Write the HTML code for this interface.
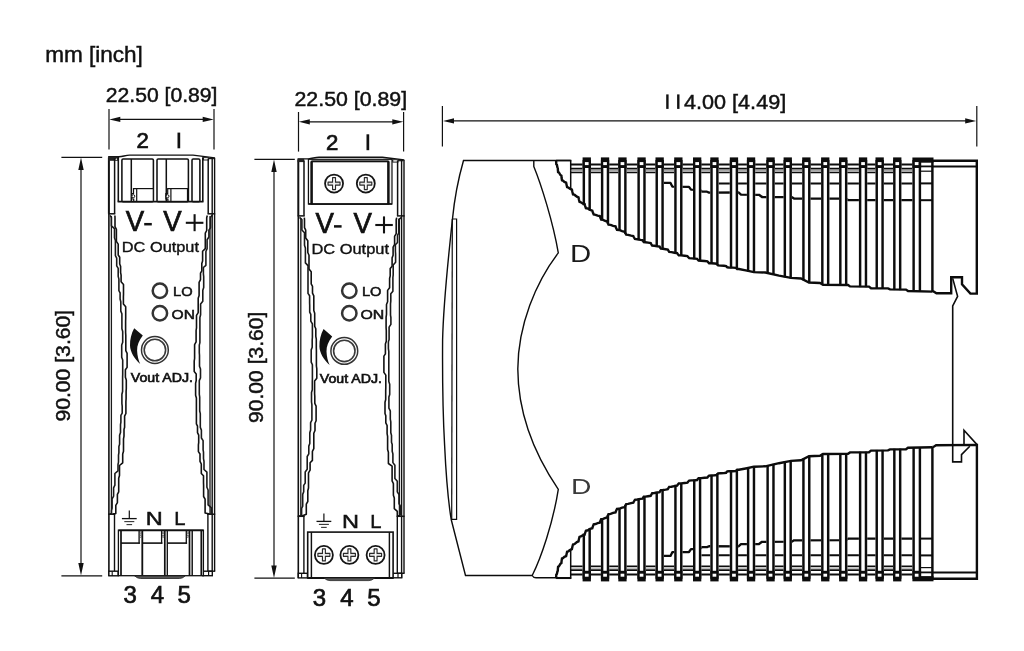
<!DOCTYPE html>
<html><head><meta charset="utf-8"><title>Dimensions</title>
<style>html,body{margin:0;padding:0;background:#fff;}svg{display:block;will-change:transform;}text{font-family:"Liberation Sans",sans-serif;}</style>
</head><body>
<svg width="1024" height="651" viewBox="0 0 1024 651">
<text x="45.2" y="61.8" font-size="21.5" textLength="97.7" lengthAdjust="spacingAndGlyphs" fill="#111" stroke="#111" stroke-width="0.45">mm [inch]</text>
<g transform="translate(0,0)">
<path d="M108.2,156.8 L119,156.8 C123,156.6 125.5,155.1 129.6,155.1 L193,155.1 L214.9,157.9" fill="none" stroke="#111" stroke-width="1.4"/>
<line x1="202.5" y1="158.6" x2="213.9" y2="158.6" stroke="#111" stroke-width="1.22" />
<line x1="108.9" y1="157.4" x2="108.9" y2="213.8" stroke="#111" stroke-width="2.00" />
<line x1="108.9" y1="213.8" x2="108.9" y2="575.9" stroke="#111" stroke-width="1.60" />
<line x1="111.4" y1="216" x2="111.4" y2="514" stroke="#1a1a1a" stroke-width="1.30" />
<line x1="214.6" y1="157.8" x2="214.6" y2="571.2" stroke="#111" stroke-width="1.40" />
<line x1="212.2" y1="157.8" x2="212.2" y2="575.9" stroke="#111" stroke-width="1.40" />
<line x1="210.0" y1="216" x2="210.0" y2="514" stroke="#1a1a1a" stroke-width="1.30" />
<rect x="108.2" y="156.6" width="10.4" height="4.2" fill="#222"/>
<path d="M115.2,160 L117.4,160 L116.3,158 Z" fill="#ddd"/>
<rect x="203.4" y="157.6" width="5.2" height="2.4" fill="#fff" stroke="#222" stroke-width="1"/>
<line x1="114.6" y1="158.4" x2="114.6" y2="213.6" stroke="#111" stroke-width="1.50" />
<line x1="208.2" y1="158.4" x2="208.2" y2="213.6" stroke="#111" stroke-width="1.50" />
<line x1="108.2" y1="213.8" x2="115.3" y2="213.8" stroke="#111" stroke-width="1.50" />
<line x1="207.5" y1="213.8" x2="215.2" y2="213.8" stroke="#111" stroke-width="1.50" />
<line x1="114.5" y1="514" x2="114.5" y2="575.9" stroke="#111" stroke-width="1.40" />
<line x1="207.9" y1="514" x2="207.9" y2="571.2" stroke="#111" stroke-width="1.40" />
<line x1="108.2" y1="514.2" x2="115.2" y2="514.2" stroke="#111" stroke-width="1.50" />
<line x1="207.2" y1="514.2" x2="215.2" y2="514.2" stroke="#111" stroke-width="1.50" />
<rect x="108.9" y="571.2" width="9.2" height="4.6" fill="#fff" stroke="#111" stroke-width="1.4"/>
<line x1="112.2" y1="571.2" x2="112.2" y2="575.9" stroke="#111" stroke-width="1.10" />
<rect x="202.8" y="571.2" width="9.5" height="4.5" fill="#fff" stroke="#111" stroke-width="1.4"/>
<line x1="208.6" y1="571.2" x2="208.6" y2="575.9" stroke="#111" stroke-width="1.20" />
<line x1="207.9" y1="571.2" x2="215.2" y2="571.2" stroke="#111" stroke-width="1.40" />
<path d="M114.9,215.5 L115.0,217.7 L115.0,226.6 L116.4,229.3 L116.4,241.4 L118.2,244.1 L118.2,255.0 L119.7,257.3 L119.7,264.0 L120.6,266.2 L120.6,272.7 L121.1,275.1 L121.1,281.8 L123.5,284.5 L123.5,294.4 L123.4,296.8 L123.4,304.0 L125.7,306.7 L125.7,318.5 L125.6,321.2 L125.6,332.6 L125.8,335.3 L125.8,350.6 L127.1,353.3 L127.1,367.4 L125.4,369.8 L125.4,377.2 L126.3,379.9 L126.3,388.6 L126.1,391.2 L126.1,398.8 L125.9,401.5 L125.9,413.5 L124.6,416.2 L124.6,427.2 L124.0,429.5 L124.0,436.2 L123.5,438.9 L123.5,451.3 L122.7,454.0 L122.7,462.8 L119.5,465.5 L119.5,475.6 L118.7,478.3 L118.7,491.8 L117.4,494.4 L117.4,502.6 L115.8,505.3 L115.8,513.5 L112.6,514.0" fill="none" stroke="#111" stroke-width="1.59" stroke-linejoin="round"/>
<path d="M207.3,215.5 L206.7,217.7 L206.7,230.5 L205.3,233.2 L205.3,248.6 L202.6,251.3 L202.6,261.1 L201.8,263.5 L201.8,270.9 L200.5,273.2 L200.5,279.7 L199.1,282.4 L199.1,295.6 L198.2,298.3 L198.2,312.6 L196.5,315.3 L196.5,327.8 L196.1,330.5 L196.1,341.9 L194.6,344.6 L194.6,358.5 L194.2,361.2 L194.2,371.6 L196.2,373.9 L196.2,380.6 L195.6,383.3 L195.6,395.3 L196.4,398.0 L196.4,411.8 L196.4,414.5 L196.4,423.9 L197.5,426.2 L197.5,432.6 L198.7,435.1 L198.7,442.6 L198.4,444.9 L198.4,451.6 L200.0,454.0 L200.0,461.3 L201.3,464.0 L201.3,473.5 L203.5,475.8 L203.5,482.7 L203.6,485.4 L203.6,496.5 L205.1,499.2 L205.1,512.9 L209.6,514.0" fill="none" stroke="#111" stroke-width="1.59" stroke-linejoin="round"/>
<path d="M110.1,215.3 L111.4,217.5 L111.4,225.9 L114.5,228.6 L114.5,237.8 L115.4,240.5 L115.4,255.6 L116.7,258.2 L116.7,265.8 L118.2,268.4 L118.2,276.4 L118.9,279.1 L118.9,290.6 L120.1,292.8 L120.1,299.1 L120.8,301.8 L120.8,311.1 L121.9,313.8 L121.9,328.8 L122.7,331.5 L122.7,342.3 L121.7,345.0 L121.7,357.3 L122.7,360.0 L122.7,374.5 L122.6,377.2 L122.6,391.5 L121.9,394.2 L121.9,403.7 L122.2,406.1 L122.2,413.1 L120.9,415.4 L120.9,422.2 L120.5,424.7 L120.5,432.6 L119.6,435.3 L119.6,444.3 L118.9,446.5 L118.9,452.7 L118.5,455.1 L118.5,462.1 L118.0,464.4 L118.0,470.8 L114.9,473.5 L114.9,485.2 L113.6,487.9 L113.6,496.1 L112.1,498.8 L112.1,508.0 L111.5,510.7 L111.5,513.5 L109.8,514.0" fill="none" stroke="#1a1a1a" stroke-width="1.59" stroke-linejoin="round"/>
<path d="M212.1,215.3 L210.5,217.5 L210.5,227.8 L208.9,230.1 L208.9,237.0 L207.1,239.7 L207.1,248.8 L205.9,251.5 L205.9,265.3 L203.4,267.5 L203.4,273.9 L203.7,276.6 L203.7,287.5 L202.8,290.2 L202.8,301.2 L200.6,303.9 L200.6,314.8 L199.9,317.5 L199.9,331.7 L199.9,334.3 L199.9,342.6 L199.3,345.1 L199.3,352.6 L199.5,355.3 L199.5,366.3 L200.5,369.0 L200.5,377.9 L199.3,380.6 L199.3,394.3 L199.7,397.0 L199.7,411.0 L200.3,413.7 L200.3,427.4 L201.4,430.1 L201.4,438.0 L203.1,440.7 L203.1,449.9 L203.5,452.2 L203.5,458.6 L204.0,461.3 L204.0,469.5 L206.9,472.2 L206.9,487.3 L208.1,490.0 L208.1,504.9 L211.2,507.6 L211.2,513.5 L212.4,514.0" fill="none" stroke="#1a1a1a" stroke-width="1.59" stroke-linejoin="round"/>
<line x1="118.3" y1="156.6" x2="118.3" y2="201.6" stroke="#111" stroke-width="1.59" />
<line x1="202.8" y1="157.2" x2="202.8" y2="201.6" stroke="#111" stroke-width="1.59" />
<line x1="117.6" y1="201.6" x2="203.5" y2="201.6" stroke="#111" stroke-width="1.59" />
<rect x="121.9" y="159.0" width="31.5" height="42.6" rx="1.2" fill="#fff" stroke="#111" stroke-width="1.55"/>
<rect x="157.0" y="159.0" width="31.4" height="42.6" rx="1.2" fill="#fff" stroke="#111" stroke-width="1.55"/>
<rect x="192.0" y="159.0" width="7.9" height="42.6" rx="1.2" fill="#fff" stroke="#111" stroke-width="1.55"/>
<line x1="131.3" y1="159.0" x2="131.3" y2="201.6" stroke="#111" stroke-width="1.52" />
<line x1="166.3" y1="159.0" x2="166.3" y2="201.6" stroke="#111" stroke-width="1.52" />
<rect x="136.7" y="188.6" width="16.600000000000023" height="12.8" fill="#fff" stroke="#111" stroke-width="1.2"/>
<path d="M136.7,188.6 L133.5,188.6 L133.5,193.5 L131.7,193.5 L131.7,199.0 L133.7,199.0 L133.7,201.0" fill="none" stroke="#111" stroke-width="1.22" />
<circle cx="133.29999999999998" cy="196.2" r="1.5" fill="#fff" stroke="#111" stroke-width="1.0"/>
<rect x="170.9" y="188.6" width="16.600000000000023" height="12.8" fill="#fff" stroke="#111" stroke-width="1.2"/>
<path d="M170.9,188.6 L167.7,188.6 L167.7,193.5 L165.9,193.5 L165.9,199.0 L167.9,199.0 L167.9,201.0" fill="none" stroke="#111" stroke-width="1.22" />
<circle cx="167.5" cy="196.2" r="1.5" fill="#fff" stroke="#111" stroke-width="1.0"/>
<rect x="118.4" y="530.2" width="85.0" height="45.499999999999886" fill="#fff" stroke="#111" stroke-width="1.3"/>
<line x1="118.4" y1="530.4000000000001" x2="203.4" y2="530.4000000000001" stroke="#111" stroke-width="1.59" />
<line x1="121.0" y1="530.2" x2="121.0" y2="575.6999999999999" stroke="#111" stroke-width="1.71" />
<line x1="142.3" y1="530.2" x2="142.3" y2="575.6999999999999" stroke="#111" stroke-width="1.83" />
<line x1="164.8" y1="530.2" x2="164.8" y2="575.6999999999999" stroke="#111" stroke-width="1.71" />
<line x1="167.3" y1="530.2" x2="167.3" y2="575.6999999999999" stroke="#111" stroke-width="1.34" />
<line x1="189.5" y1="530.2" x2="189.5" y2="575.6999999999999" stroke="#111" stroke-width="1.71" />
<line x1="192.2" y1="530.2" x2="192.2" y2="575.6999999999999" stroke="#111" stroke-width="1.46" />
<line x1="201.3" y1="530.2" x2="201.3" y2="575.6999999999999" stroke="#111" stroke-width="1.71" />
<line x1="121.0" y1="543.1" x2="139.9" y2="543.1" stroke="#111" stroke-width="1.59" />
<line x1="139.10000000000002" y1="530.2" x2="139.10000000000002" y2="543.6" stroke="#111" stroke-width="1.34" />
<circle cx="140.60000000000002" cy="532.9" r="1.0" fill="#fff" stroke="#222" stroke-width="0.7"/>
<circle cx="140.60000000000002" cy="536.3" r="1.0" fill="#fff" stroke="#222" stroke-width="0.7"/>
<line x1="142.3" y1="543.1" x2="162.4" y2="543.1" stroke="#111" stroke-width="1.59" />
<line x1="161.60000000000002" y1="530.2" x2="161.60000000000002" y2="543.6" stroke="#111" stroke-width="1.34" />
<circle cx="163.10000000000002" cy="532.9" r="1.0" fill="#fff" stroke="#222" stroke-width="0.7"/>
<circle cx="163.10000000000002" cy="536.3" r="1.0" fill="#fff" stroke="#222" stroke-width="0.7"/>
<line x1="167.3" y1="543.1" x2="187.1" y2="543.1" stroke="#111" stroke-width="1.59" />
<line x1="186.3" y1="530.2" x2="186.3" y2="543.6" stroke="#111" stroke-width="1.34" />
<circle cx="187.8" cy="532.9" r="1.0" fill="#fff" stroke="#222" stroke-width="0.7"/>
<circle cx="187.8" cy="536.3" r="1.0" fill="#fff" stroke="#222" stroke-width="0.7"/>
<path d="M134.6,575.9 Q137.5,578.5 140.5,578.5 L179.5,578.5 Q182.5,578.5 185.2,575.9 Z" fill="#555" stroke="#222" stroke-width="0.8"/>
<circle cx="159.9" cy="290.7" r="7.2" fill="#fff" stroke="#333" stroke-width="2.5"/>
<circle cx="159.9" cy="313.3" r="7.2" fill="#fff" stroke="#333" stroke-width="2.5"/>
<g transform="translate(0,0)">
<circle cx="154.9" cy="350" r="13.4" fill="#fff" stroke="#333" stroke-width="1.5"/>
<circle cx="154.9" cy="350" r="10.7" fill="#fff" stroke="#3a3a3a" stroke-width="1.6"/>
<path d="M134.2,328.2 L142.8,335.6 C139,340.5 136.9,346 137.1,350.5 C137.3,355.5 138.4,360 140.2,364 C134.3,358.5 130.2,352 130.0,345.5 C129.9,339.5 131.3,333.5 134.2,328.2 Z" fill="#111"/>
</g>
</g>
<text x="105.8" y="102.3" font-size="19.6" textLength="111.7" lengthAdjust="spacingAndGlyphs" fill="#111" stroke="#111" stroke-width="0.45">22.50 [0.89]</text>
<line x1="109" y1="109" x2="109" y2="149.4" stroke="#111" stroke-width="1.20" />
<line x1="214" y1="109" x2="214" y2="149.4" stroke="#111" stroke-width="1.20" />
<line x1="115.3" y1="119.4" x2="207.7" y2="119.4" stroke="#111" stroke-width="1.20" />
<path d="M109.3,119.4 L120.3,116.80000000000001 L120.3,122.0 Z M213.7,119.4 L202.7,116.80000000000001 L202.7,122.0 Z" fill="#111"/>
<line x1="61.4" y1="157.3" x2="102.2" y2="157.3" stroke="#111" stroke-width="1.20" />
<line x1="61.4" y1="575.9" x2="102.2" y2="575.9" stroke="#111" stroke-width="1.20" />
<line x1="81.0" y1="163.6" x2="81.0" y2="569.6" stroke="#111" stroke-width="1.20" />
<path d="M81.0,157.6 L78.3,170.1 L83.7,170.1 Z M81.0,575.6 L78.3,563.1 L83.7,563.1 Z" fill="#111"/>
<text transform="translate(70,421.6) rotate(-90)" stroke="#111" stroke-width="0.45" font-size="19.6" textLength="111.8" lengthAdjust="spacingAndGlyphs" fill="#111">90.00 [3.60]</text>
<text x="136.4" y="148.3" font-size="22.2" fill="#111" stroke="#111" stroke-width="0.7">2</text>
<rect x="177.5" y="132.6" width="2.7" height="15.7" fill="#111"/>
<text x="125.7" y="231.2" font-size="29.4" textLength="18.4" lengthAdjust="spacingAndGlyphs" fill="#111" stroke="#111" stroke-width="0.7">V</text>
<line x1="144.2" y1="224.2" x2="151.8" y2="224.2" stroke="#111" stroke-width="2.50" />
<text x="163.3" y="231.2" font-size="29.4" textLength="18.4" lengthAdjust="spacingAndGlyphs" fill="#111" stroke="#111" stroke-width="0.7">V</text>
<line x1="185.8" y1="222.8" x2="203.4" y2="222.8" stroke="#111" stroke-width="2.10" />
<line x1="194.6" y1="214.2" x2="194.6" y2="231.2" stroke="#111" stroke-width="2.10" />
<text x="121.8" y="251.5" font-size="14" textLength="77.2" lengthAdjust="spacingAndGlyphs" fill="#111" stroke="#111" stroke-width="0.35">DC Output</text>
<text x="173.0" y="296.4" font-size="12.6" textLength="19.6" lengthAdjust="spacingAndGlyphs" fill="#111" stroke="#111" stroke-width="0.5">LO</text>
<text x="171.6" y="319.3" font-size="12.6" textLength="23.4" lengthAdjust="spacingAndGlyphs" fill="#111" stroke="#111" stroke-width="0.5">ON</text>
<text x="130.8" y="381.8" font-size="13" textLength="62.2" lengthAdjust="spacingAndGlyphs" fill="#111" stroke="#111" stroke-width="0.65">Vout ADJ.</text>
<line x1="129.3" y1="510.6" x2="129.3" y2="518.6" stroke="#111" stroke-width="1.20" />
<line x1="121.9" y1="518.6" x2="136.70000000000002" y2="518.6" stroke="#111" stroke-width="1.30" />
<line x1="124.30000000000001" y1="521.6" x2="134.3" y2="521.6" stroke="#333" stroke-width="1.10" />
<line x1="126.50000000000001" y1="524.6" x2="132.10000000000002" y2="524.6" stroke="#333" stroke-width="1.10" />
<text x="145.8" y="525" font-size="19" textLength="17.0" lengthAdjust="spacingAndGlyphs" fill="#111" stroke="#111" stroke-width="0.5">N</text>
<text x="174.2" y="525" font-size="19" textLength="11.2" lengthAdjust="spacingAndGlyphs" fill="#111" stroke="#111" stroke-width="0.5">L</text>
<text x="123.6" y="602.9" font-size="24" fill="#111" stroke="#111" stroke-width="0.7">3</text>
<text x="150.8" y="602.9" font-size="24" fill="#111" stroke="#111" stroke-width="0.7">4</text>
<text x="177.4" y="602.9" font-size="24" fill="#111" stroke="#111" stroke-width="0.7">5</text>
<g transform="translate(189.4,2.1)">
<path d="M108.2,156.8 L119,156.8 C123,156.6 125.5,155.1 129.6,155.1 L193,155.1 L214.9,157.9" fill="none" stroke="#111" stroke-width="1.4"/>
<line x1="202.5" y1="158.6" x2="213.9" y2="158.6" stroke="#111" stroke-width="1.22" />
<line x1="108.9" y1="157.4" x2="108.9" y2="213.8" stroke="#111" stroke-width="2.00" />
<line x1="108.9" y1="213.8" x2="108.9" y2="575.9" stroke="#111" stroke-width="1.60" />
<line x1="111.4" y1="216" x2="111.4" y2="514" stroke="#1a1a1a" stroke-width="1.30" />
<line x1="214.6" y1="157.8" x2="214.6" y2="571.2" stroke="#111" stroke-width="1.40" />
<line x1="212.2" y1="157.8" x2="212.2" y2="575.9" stroke="#111" stroke-width="1.40" />
<line x1="210.0" y1="216" x2="210.0" y2="514" stroke="#1a1a1a" stroke-width="1.30" />
<rect x="108.2" y="156.6" width="6.6" height="3.4" fill="#222"/>
<rect x="203.4" y="157.6" width="5.2" height="2.4" fill="#fff" stroke="#222" stroke-width="1"/>
<line x1="114.6" y1="158.4" x2="114.6" y2="213.6" stroke="#111" stroke-width="1.50" />
<line x1="208.2" y1="158.4" x2="208.2" y2="213.6" stroke="#111" stroke-width="1.50" />
<line x1="108.2" y1="213.8" x2="115.3" y2="213.8" stroke="#111" stroke-width="1.50" />
<line x1="207.5" y1="213.8" x2="215.2" y2="213.8" stroke="#111" stroke-width="1.50" />
<line x1="114.5" y1="514" x2="114.5" y2="575.9" stroke="#111" stroke-width="1.40" />
<line x1="207.9" y1="514" x2="207.9" y2="571.2" stroke="#111" stroke-width="1.40" />
<line x1="108.2" y1="514.2" x2="115.2" y2="514.2" stroke="#111" stroke-width="1.50" />
<line x1="207.2" y1="514.2" x2="215.2" y2="514.2" stroke="#111" stroke-width="1.50" />
<rect x="108.9" y="571.2" width="9.2" height="4.6" fill="#fff" stroke="#111" stroke-width="1.4"/>
<line x1="112.2" y1="571.2" x2="112.2" y2="575.9" stroke="#111" stroke-width="1.10" />
<rect x="202.8" y="571.2" width="9.5" height="4.5" fill="#fff" stroke="#111" stroke-width="1.4"/>
<line x1="208.6" y1="571.2" x2="208.6" y2="575.9" stroke="#111" stroke-width="1.20" />
<line x1="207.9" y1="571.2" x2="215.2" y2="571.2" stroke="#111" stroke-width="1.40" />
<path d="M114.9,215.5 L115.1,217.6 L115.1,225.6 L116.3,228.1 L116.3,235.9 L118.4,238.6 L118.4,250.4 L119.6,253.1 L119.6,267.0 L121.8,269.7 L121.8,281.8 L123.1,284.2 L123.1,291.1 L124.4,293.8 L124.4,308.4 L125.3,311.1 L125.3,324.1 L126.4,326.7 L126.4,334.3 L126.9,337.0 L126.9,345.9 L127.0,348.6 L127.0,363.9 L127.4,366.6 L127.4,376.2 L125.2,378.9 L125.2,391.7 L125.4,394.1 L125.4,401.3 L126.7,404.0 L126.7,418.6 L125.6,421.1 L125.6,428.4 L124.4,431.1 L124.4,446.5 L123.0,449.2 L123.0,458.3 L120.7,460.7 L120.7,468.0 L119.1,470.7 L119.1,485.9 L118.4,488.6 L118.4,499.4 L116.9,502.1 L116.9,512.1 L112.6,514.0" fill="none" stroke="#111" stroke-width="1.59" stroke-linejoin="round"/>
<path d="M207.3,215.5 L206.8,217.7 L206.8,231.5 L205.2,234.2 L205.2,242.4 L203.7,245.0 L203.7,253.1 L202.7,255.8 L202.7,264.1 L200.8,266.5 L200.8,273.7 L200.2,276.4 L200.2,285.6 L198.2,288.3 L198.2,299.7 L197.1,302.4 L197.1,312.3 L196.7,315.0 L196.7,325.6 L196.9,328.3 L196.9,339.1 L196.0,341.8 L196.0,351.8 L194.5,354.0 L194.5,360.3 L194.5,362.8 L194.5,370.3 L196.4,373.0 L196.4,385.8 L196.3,388.5 L196.3,397.4 L195.6,400.1 L195.6,411.3 L196.4,413.7 L196.4,420.7 L197.7,423.4 L197.7,431.6 L198.2,434.3 L198.2,447.5 L199.0,450.2 L199.0,461.4 L202.7,464.1 L202.7,478.8 L204.0,481.5 L204.0,493.2 L204.9,495.9 L204.9,506.6 L207.9,509.3 L207.9,513.5 L209.6,514.0" fill="none" stroke="#111" stroke-width="1.59" stroke-linejoin="round"/>
<path d="M110.1,215.3 L112.5,217.5 L112.5,227.9 L115.1,230.6 L115.1,243.1 L116.0,245.8 L116.0,260.8 L118.6,263.5 L118.6,274.7 L118.6,277.4 L118.6,291.3 L120.2,293.7 L120.2,300.9 L120.3,303.2 L120.3,310.0 L121.4,312.3 L121.4,319.1 L123.0,321.8 L123.0,335.2 L122.8,337.7 L122.8,345.1 L121.8,347.8 L121.8,360.0 L123.0,362.7 L123.0,377.0 L122.9,379.6 L122.9,387.6 L122.1,390.3 L122.1,399.9 L122.5,402.6 L122.5,418.0 L121.2,420.5 L121.2,428.0 L120.4,430.7 L120.4,441.4 L119.4,444.0 L119.4,451.7 L117.8,454.4 L117.8,467.2 L115.8,469.9 L115.8,481.0 L114.3,483.3 L114.3,489.6 L113.3,492.3 L113.3,504.1 L112.2,506.4 L112.2,513.2 L109.8,514.0" fill="none" stroke="#1a1a1a" stroke-width="1.59" stroke-linejoin="round"/>
<path d="M212.1,215.3 L209.3,217.5 L209.3,230.9 L208.1,233.3 L208.1,240.4 L206.0,242.6 L206.0,249.1 L206.2,251.8 L206.2,260.2 L203.8,262.9 L203.8,272.7 L203.5,275.4 L203.5,289.2 L201.4,291.6 L201.4,299.0 L201.1,301.7 L201.1,313.0 L201.5,315.4 L201.5,322.3 L199.7,325.0 L199.7,337.4 L199.0,339.8 L199.0,346.5 L199.4,349.2 L199.4,361.2 L199.4,363.5 L199.4,370.4 L199.4,372.7 L199.4,379.4 L200.3,382.1 L200.3,392.3 L199.5,395.0 L199.5,406.1 L200.9,408.8 L200.9,417.1 L201.4,419.8 L201.4,430.7 L202.1,433.1 L202.1,440.2 L202.8,442.4 L202.8,449.1 L203.5,451.8 L203.5,460.5 L205.5,463.2 L205.5,476.4 L207.9,479.1 L207.9,489.7 L209.6,492.4 L209.6,501.5 L211.0,504.1 L211.0,512.3 L212.4,514.0" fill="none" stroke="#1a1a1a" stroke-width="1.59" stroke-linejoin="round"/>
<rect x="119.0" y="157.2" width="83.6" height="44.70000000000002" fill="#eee" stroke="#111" stroke-width="1.2"/>
<rect x="122.2" y="159.3" width="76.8" height="42.599999999999994" fill="#fff" stroke="#111" stroke-width="1.3"/>
<line x1="122.2" y1="159.3" x2="122.2" y2="201.9" stroke="#111" stroke-width="2.44" />
<line x1="199.0" y1="159.3" x2="199.0" y2="201.9" stroke="#111" stroke-width="2.44" />
<line x1="122.2" y1="159.3" x2="199.0" y2="159.3" stroke="#111" stroke-width="1.71" />
<line x1="119.0" y1="201.9" x2="202.6" y2="201.9" stroke="#111" stroke-width="1.59" />
<circle cx="144.65" cy="181.5" r="9.0" fill="#fff" stroke="#151515" stroke-width="1.8"/>
<path d="M143.20000000000002,175.5 L146.1,175.5 L146.1,180.05 L150.65,180.05 L150.65,182.95 L146.1,182.95 L146.1,187.5 L143.20000000000002,187.5 L143.20000000000002,182.95 L138.65,182.95 L138.65,180.05 L143.20000000000002,180.05 Z" fill="#e4e4e4" stroke="#2a2a2a" stroke-width="1.15" stroke-linejoin="round"/>
<rect x="144.15" y="176.5" width="1.0" height="10.0" fill="#fff"/>
<circle cx="176.4" cy="181.5" r="9.0" fill="#fff" stroke="#151515" stroke-width="1.8"/>
<path d="M174.95000000000002,175.5 L177.85,175.5 L177.85,180.05 L182.4,180.05 L182.4,182.95 L177.85,182.95 L177.85,187.5 L174.95000000000002,187.5 L174.95000000000002,182.95 L170.4,182.95 L170.4,180.05 L174.95000000000002,180.05 Z" fill="#e4e4e4" stroke="#2a2a2a" stroke-width="1.15" stroke-linejoin="round"/>
<rect x="175.9" y="176.5" width="1.0" height="10.0" fill="#fff"/>
<rect x="118.3" y="530.0" width="85.39999999999999" height="45.89999999999998" fill="#fff" stroke="#111" stroke-width="1.6"/>
<line x1="122" y1="530.0" x2="122" y2="575.9" stroke="#111" stroke-width="1.46" />
<line x1="200" y1="530.0" x2="200" y2="575.9" stroke="#111" stroke-width="1.46" />
<line x1="118.3" y1="575.9" x2="203.7" y2="575.9" stroke="#111" stroke-width="2.20" />
<circle cx="134.5" cy="552.8" r="9.0" fill="#fff" stroke="#151515" stroke-width="1.8"/>
<path d="M133.05,546.8 L135.95,546.8 L135.95,551.3499999999999 L140.5,551.3499999999999 L140.5,554.25 L135.95,554.25 L135.95,558.8 L133.05,558.8 L133.05,554.25 L128.5,554.25 L128.5,551.3499999999999 L133.05,551.3499999999999 Z" fill="#e4e4e4" stroke="#2a2a2a" stroke-width="1.15" stroke-linejoin="round"/>
<rect x="134.0" y="547.8" width="1.0" height="10.0" fill="#fff"/>
<circle cx="160.0" cy="552.8" r="9.0" fill="#fff" stroke="#151515" stroke-width="1.8"/>
<path d="M158.55,546.8 L161.45,546.8 L161.45,551.3499999999999 L166.0,551.3499999999999 L166.0,554.25 L161.45,554.25 L161.45,558.8 L158.55,558.8 L158.55,554.25 L154.0,554.25 L154.0,551.3499999999999 L158.55,551.3499999999999 Z" fill="#e4e4e4" stroke="#2a2a2a" stroke-width="1.15" stroke-linejoin="round"/>
<rect x="159.5" y="547.8" width="1.0" height="10.0" fill="#fff"/>
<circle cx="186.2" cy="552.8" r="9.0" fill="#fff" stroke="#151515" stroke-width="1.8"/>
<path d="M184.75,546.8 L187.64999999999998,546.8 L187.64999999999998,551.3499999999999 L192.2,551.3499999999999 L192.2,554.25 L187.64999999999998,554.25 L187.64999999999998,558.8 L184.75,558.8 L184.75,554.25 L180.2,554.25 L180.2,551.3499999999999 L184.75,551.3499999999999 Z" fill="#e4e4e4" stroke="#2a2a2a" stroke-width="1.15" stroke-linejoin="round"/>
<rect x="185.7" y="547.8" width="1.0" height="10.0" fill="#fff"/>
<path d="M134.6,575.9 Q137.5,578.5 140.5,578.5 L179.5,578.5 Q182.5,578.5 185.2,575.9 Z" fill="#555" stroke="#222" stroke-width="0.8"/>
<circle cx="159.9" cy="288.59999999999997" r="7.2" fill="#fff" stroke="#333" stroke-width="2.5"/>
<circle cx="159.9" cy="311.2" r="7.2" fill="#fff" stroke="#333" stroke-width="2.5"/>
<g transform="translate(0,-1.2)">
<circle cx="154.9" cy="350" r="13.4" fill="#fff" stroke="#333" stroke-width="1.5"/>
<circle cx="154.9" cy="350" r="10.7" fill="#fff" stroke="#3a3a3a" stroke-width="1.6"/>
<path d="M134.2,328.2 L142.8,335.6 C139,340.5 136.9,346 137.1,350.5 C137.3,355.5 138.4,360 140.2,364 C134.3,358.5 130.2,352 130.0,345.5 C129.9,339.5 131.3,333.5 134.2,328.2 Z" fill="#111"/>
</g>
</g>
<text x="294.5" y="106.0" font-size="19.6" textLength="112.6" lengthAdjust="spacingAndGlyphs" fill="#111" stroke="#111" stroke-width="0.45">22.50 [0.89]</text>
<line x1="298.5" y1="112" x2="298.5" y2="151.6" stroke="#111" stroke-width="1.20" />
<line x1="403.6" y1="112" x2="403.6" y2="151.6" stroke="#111" stroke-width="1.20" />
<line x1="304.8" y1="121.8" x2="397.3" y2="121.8" stroke="#111" stroke-width="1.20" />
<path d="M298.8,121.8 L309.8,119.2 L309.8,124.39999999999999 Z M403.3,121.8 L392.3,119.2 L392.3,124.39999999999999 Z" fill="#111"/>
<line x1="254.4" y1="159.3" x2="294.8" y2="159.3" stroke="#111" stroke-width="1.20" />
<line x1="254.4" y1="578.2" x2="294.8" y2="578.2" stroke="#111" stroke-width="1.20" />
<line x1="274.0" y1="165.6" x2="274.0" y2="571.9" stroke="#111" stroke-width="1.20" />
<path d="M274.0,159.6 L271.3,172.1 L276.7,172.1 Z M274.0,577.9 L271.3,565.4 L276.7,565.4 Z" fill="#111"/>
<text transform="translate(263.2,422.9) rotate(-90)" stroke="#111" stroke-width="0.45" font-size="19.6" textLength="111.2" lengthAdjust="spacingAndGlyphs" fill="#111">90.00 [3.60]</text>
<text x="326.0" y="150.2" font-size="22.2" fill="#111" stroke="#111" stroke-width="0.7">2</text>
<rect x="366.5" y="134.3" width="2.7" height="15.9" fill="#111"/>
<text x="315.6" y="233.3" font-size="29.4" textLength="18.4" lengthAdjust="spacingAndGlyphs" fill="#111" stroke="#111" stroke-width="0.7">V</text>
<line x1="334.0" y1="226.4" x2="341.6" y2="226.4" stroke="#111" stroke-width="2.50" />
<text x="353.5" y="233.3" font-size="29.4" textLength="18.4" lengthAdjust="spacingAndGlyphs" fill="#111" stroke="#111" stroke-width="0.7">V</text>
<line x1="375.3" y1="225.0" x2="392.8" y2="225.0" stroke="#111" stroke-width="2.10" />
<line x1="384.0" y1="216.4" x2="384.0" y2="233.4" stroke="#111" stroke-width="2.10" />
<text x="311.4" y="254.3" font-size="14" textLength="77.6" lengthAdjust="spacingAndGlyphs" fill="#111" stroke="#111" stroke-width="0.35">DC Output</text>
<text x="361.9" y="295.9" font-size="12.6" textLength="19.6" lengthAdjust="spacingAndGlyphs" fill="#111" stroke="#111" stroke-width="0.5">LO</text>
<text x="360.4" y="318.8" font-size="12.6" textLength="23.8" lengthAdjust="spacingAndGlyphs" fill="#111" stroke="#111" stroke-width="0.5">ON</text>
<text x="319.8" y="383.4" font-size="13" textLength="62.2" lengthAdjust="spacingAndGlyphs" fill="#111" stroke="#111" stroke-width="0.65">Vout ADJ.</text>
<line x1="323.9" y1="513.4" x2="323.9" y2="521.4" stroke="#111" stroke-width="1.20" />
<line x1="316.5" y1="521.4" x2="331.29999999999995" y2="521.4" stroke="#111" stroke-width="1.30" />
<line x1="318.9" y1="524.4" x2="328.9" y2="524.4" stroke="#333" stroke-width="1.10" />
<line x1="321.09999999999997" y1="527.4" x2="326.7" y2="527.4" stroke="#333" stroke-width="1.10" />
<text x="342.0" y="527.8" font-size="19" textLength="17.0" lengthAdjust="spacingAndGlyphs" fill="#111" stroke="#111" stroke-width="0.5">N</text>
<text x="370.3" y="527.8" font-size="19" textLength="11.2" lengthAdjust="spacingAndGlyphs" fill="#111" stroke="#111" stroke-width="0.5">L</text>
<text x="312.8" y="606.2" font-size="24" fill="#111" stroke="#111" stroke-width="0.7">3</text>
<text x="340.2" y="606.2" font-size="24" fill="#111" stroke="#111" stroke-width="0.7">4</text>
<text x="367.2" y="606.2" font-size="24" fill="#111" stroke="#111" stroke-width="0.7">5</text>
<g>
<line x1="570.70" y1="160.50" x2="570.70" y2="190.10" stroke="#0c0c0c" stroke-width="1.5" />
<line x1="556.10" y1="160.50" x2="571.40" y2="160.50" stroke="#0c0c0c" stroke-width="1.5" />
<line x1="570.70" y1="164.40" x2="932.40" y2="164.40" stroke="#0c0c0c" stroke-width="2.0" />
<line x1="570.70" y1="168.65" x2="932.40" y2="168.65" stroke="#0c0c0c" stroke-width="1.7" />
<line x1="570.70" y1="170.75" x2="932.40" y2="170.75" stroke="#6a6a6a" stroke-width="0.8" />
<line x1="570.70" y1="172.60" x2="932.40" y2="172.60" stroke="#0c0c0c" stroke-width="1.5" />
<line x1="718.50" y1="183.60" x2="932.40" y2="183.60" stroke="#0c0c0c" stroke-width="2.0" />
<path d="M663.8,182.9 L670.5,182.9 L672.3,186.6 L689.0,186.8 L691.0,189.7 L700.0,189.9 L702.0,191.6 L707.0,191.7 L709.0,192.6 L738.5,192.4 L741.0,194.6 L759.0,194.8 L762.0,197.0 L792.0,197.2 L794.0,198.5 L846.0,198.7 L848.5,200.2 L932.4,200.2" fill="none" stroke="#0c0c0c" stroke-width="2.3" stroke-linejoin="round"/>
<rect x="582.6" y="162" width="8.3" height="45.2" fill="#fff"/>
<line x1="583.83" y1="160.00" x2="583.83" y2="205.33" stroke="#0c0c0c" stroke-width="2.45" />
<line x1="589.67" y1="160.00" x2="589.67" y2="210.45" stroke="#0c0c0c" stroke-width="2.45" />
<rect x="582.6" y="157.4" width="8.3" height="10.6" fill="#0c0c0c"/>
<rect x="584.9" y="162.1" width="3.7" height="3.0" fill="#fff"/>
<rect x="600.9" y="162" width="8.3" height="58.9" fill="#fff"/>
<line x1="602.12" y1="160.00" x2="602.12" y2="219.56" stroke="#0c0c0c" stroke-width="2.45" />
<line x1="607.97" y1="160.00" x2="607.97" y2="223.46" stroke="#0c0c0c" stroke-width="2.45" />
<rect x="600.9" y="157.4" width="8.3" height="10.6" fill="#0c0c0c"/>
<rect x="603.2" y="162.1" width="3.7" height="3.0" fill="#fff"/>
<rect x="618.3" y="162" width="8.3" height="69.7" fill="#fff"/>
<line x1="619.52" y1="160.00" x2="619.52" y2="230.60" stroke="#0c0c0c" stroke-width="2.45" />
<line x1="625.37" y1="160.00" x2="625.37" y2="233.91" stroke="#0c0c0c" stroke-width="2.45" />
<rect x="618.3" y="157.4" width="8.3" height="10.6" fill="#0c0c0c"/>
<rect x="620.6" y="162.1" width="3.7" height="3.0" fill="#fff"/>
<rect x="637.4" y="162" width="8.3" height="78.6" fill="#fff"/>
<line x1="638.62" y1="160.00" x2="638.62" y2="240.12" stroke="#0c0c0c" stroke-width="2.45" />
<line x1="644.47" y1="160.00" x2="644.47" y2="242.21" stroke="#0c0c0c" stroke-width="2.45" />
<rect x="637.4" y="157.4" width="8.3" height="10.6" fill="#0c0c0c"/>
<rect x="639.7" y="162.1" width="3.7" height="3.0" fill="#fff"/>
<rect x="655.5" y="162" width="8.3" height="85.4" fill="#fff"/>
<line x1="656.73" y1="160.00" x2="656.73" y2="246.99" stroke="#0c0c0c" stroke-width="2.45" />
<line x1="662.57" y1="160.00" x2="662.57" y2="249.01" stroke="#0c0c0c" stroke-width="2.45" />
<rect x="655.5" y="157.4" width="8.3" height="10.6" fill="#0c0c0c"/>
<rect x="657.8" y="162.1" width="3.7" height="3.0" fill="#fff"/>
<rect x="674.2" y="162" width="8.3" height="92.3" fill="#fff"/>
<line x1="675.43" y1="160.00" x2="675.43" y2="254.05" stroke="#0c0c0c" stroke-width="2.45" />
<line x1="681.27" y1="160.00" x2="681.27" y2="255.76" stroke="#0c0c0c" stroke-width="2.45" />
<rect x="674.2" y="157.4" width="8.3" height="10.6" fill="#0c0c0c"/>
<rect x="676.5" y="162.1" width="3.7" height="3.0" fill="#fff"/>
<rect x="693.0" y="162" width="8.3" height="97.4" fill="#fff"/>
<line x1="694.23" y1="160.00" x2="694.23" y2="259.30" stroke="#0c0c0c" stroke-width="2.45" />
<line x1="700.07" y1="160.00" x2="700.07" y2="260.73" stroke="#0c0c0c" stroke-width="2.45" />
<rect x="693.0" y="157.4" width="8.3" height="10.6" fill="#0c0c0c"/>
<rect x="695.3" y="162.1" width="3.7" height="3.0" fill="#fff"/>
<rect x="710.3" y="162" width="8.3" height="101.8" fill="#fff"/>
<line x1="711.52" y1="160.00" x2="711.52" y2="263.68" stroke="#0c0c0c" stroke-width="2.45" />
<line x1="717.37" y1="160.00" x2="717.37" y2="265.09" stroke="#0c0c0c" stroke-width="2.45" />
<rect x="710.3" y="157.4" width="8.3" height="10.6" fill="#0c0c0c"/>
<rect x="712.6" y="162.1" width="3.7" height="3.0" fill="#fff"/>
<rect x="729.8" y="162" width="8.3" height="106.1" fill="#fff"/>
<line x1="731.02" y1="160.00" x2="731.02" y2="268.24" stroke="#0c0c0c" stroke-width="2.45" />
<line x1="736.87" y1="160.00" x2="736.87" y2="269.06" stroke="#0c0c0c" stroke-width="2.45" />
<rect x="729.8" y="157.4" width="8.3" height="10.6" fill="#0c0c0c"/>
<rect x="732.1" y="162.1" width="3.7" height="3.0" fill="#fff"/>
<rect x="746.9" y="162" width="8.3" height="109.5" fill="#fff"/>
<line x1="748.12" y1="160.00" x2="748.12" y2="271.45" stroke="#0c0c0c" stroke-width="2.45" />
<line x1="753.97" y1="160.00" x2="753.97" y2="272.71" stroke="#0c0c0c" stroke-width="2.45" />
<rect x="746.9" y="157.4" width="8.3" height="10.6" fill="#0c0c0c"/>
<rect x="749.2" y="162.1" width="3.7" height="3.0" fill="#fff"/>
<rect x="766.4" y="162" width="8.3" height="111.7" fill="#fff"/>
<line x1="767.62" y1="160.00" x2="767.62" y2="273.63" stroke="#0c0c0c" stroke-width="2.45" />
<line x1="773.47" y1="160.00" x2="773.47" y2="274.95" stroke="#0c0c0c" stroke-width="2.45" />
<rect x="766.4" y="157.4" width="8.3" height="10.6" fill="#0c0c0c"/>
<rect x="768.7" y="162.1" width="3.7" height="3.0" fill="#fff"/>
<rect x="783.6" y="162" width="8.3" height="115.3" fill="#fff"/>
<line x1="784.83" y1="160.00" x2="784.83" y2="277.32" stroke="#0c0c0c" stroke-width="2.45" />
<line x1="790.67" y1="160.00" x2="790.67" y2="278.44" stroke="#0c0c0c" stroke-width="2.45" />
<rect x="783.6" y="157.4" width="8.3" height="10.6" fill="#0c0c0c"/>
<rect x="785.9" y="162.1" width="3.7" height="3.0" fill="#fff"/>
<rect x="802.2" y="162" width="8.3" height="119.2" fill="#fff"/>
<line x1="803.43" y1="160.00" x2="803.43" y2="280.31" stroke="#0c0c0c" stroke-width="2.45" />
<line x1="809.27" y1="160.00" x2="809.27" y2="283.11" stroke="#0c0c0c" stroke-width="2.45" />
<rect x="802.2" y="157.4" width="8.3" height="10.6" fill="#0c0c0c"/>
<rect x="804.5" y="162.1" width="3.7" height="3.0" fill="#fff"/>
<rect x="821.1" y="162" width="8.3" height="122.8" fill="#fff"/>
<line x1="822.33" y1="160.00" x2="822.33" y2="285.00" stroke="#0c0c0c" stroke-width="2.45" />
<line x1="828.17" y1="160.00" x2="828.17" y2="285.44" stroke="#0c0c0c" stroke-width="2.45" />
<rect x="821.1" y="157.4" width="8.3" height="10.6" fill="#0c0c0c"/>
<rect x="823.4" y="162.1" width="3.7" height="3.0" fill="#fff"/>
<rect x="839.1" y="162" width="8.3" height="123.0" fill="#fff"/>
<line x1="840.33" y1="160.00" x2="840.33" y2="285.54" stroke="#0c0c0c" stroke-width="2.45" />
<line x1="846.17" y1="160.00" x2="846.17" y2="285.59" stroke="#0c0c0c" stroke-width="2.45" />
<rect x="839.1" y="157.4" width="8.3" height="10.6" fill="#0c0c0c"/>
<rect x="841.4" y="162.1" width="3.7" height="3.0" fill="#fff"/>
<rect x="858.9" y="162" width="8.3" height="124.5" fill="#fff"/>
<line x1="860.12" y1="160.00" x2="860.12" y2="287.11" stroke="#0c0c0c" stroke-width="2.45" />
<line x1="865.97" y1="160.00" x2="865.97" y2="287.17" stroke="#0c0c0c" stroke-width="2.45" />
<rect x="858.9" y="157.4" width="8.3" height="10.6" fill="#0c0c0c"/>
<rect x="861.2" y="162.1" width="3.7" height="3.0" fill="#fff"/>
<rect x="875.5" y="162" width="8.3" height="126.3" fill="#fff"/>
<line x1="876.73" y1="160.00" x2="876.73" y2="288.87" stroke="#0c0c0c" stroke-width="2.45" />
<line x1="882.57" y1="160.00" x2="882.57" y2="288.94" stroke="#0c0c0c" stroke-width="2.45" />
<rect x="875.5" y="157.4" width="8.3" height="10.6" fill="#0c0c0c"/>
<rect x="877.8" y="162.1" width="3.7" height="3.0" fill="#fff"/>
<rect x="893.1" y="162" width="8.3" height="127.5" fill="#fff"/>
<line x1="894.33" y1="160.00" x2="894.33" y2="290.05" stroke="#0c0c0c" stroke-width="2.45" />
<line x1="900.17" y1="160.00" x2="900.17" y2="290.13" stroke="#0c0c0c" stroke-width="2.45" />
<rect x="893.1" y="157.4" width="8.3" height="10.6" fill="#0c0c0c"/>
<rect x="895.4" y="162.1" width="3.7" height="3.0" fill="#fff"/>
<rect x="912.4" y="162" width="20" height="129.3" fill="#fff"/>
<line x1="913.62" y1="160.00" x2="913.62" y2="291.60" stroke="#0c0c0c" stroke-width="2.45" />
<line x1="919.90" y1="160.00" x2="919.90" y2="291.60" stroke="#0c0c0c" stroke-width="2.45" />
<line x1="932.40" y1="160.00" x2="932.40" y2="292.00" stroke="#0c0c0c" stroke-width="2.45" />
<rect x="912.4" y="157.5" width="21.1" height="5.2" fill="#0c0c0c"/>
<rect x="912.4" y="162.7" width="8.7" height="5.3" fill="#0c0c0c"/>
<rect x="914.8" y="162.1" width="3.7" height="3.0" fill="#fff"/>
<line x1="920.00" y1="166.40" x2="932.40" y2="166.40" stroke="#0c0c0c" stroke-width="1.8" />
<line x1="920.00" y1="171.20" x2="932.40" y2="171.20" stroke="#0c0c0c" stroke-width="1.2" />
<line x1="920.00" y1="183.40" x2="932.40" y2="183.40" stroke="#0c0c0c" stroke-width="2.0" />
<line x1="920.00" y1="200.20" x2="932.40" y2="200.20" stroke="#0c0c0c" stroke-width="2.0" />
<path d="M556.1,160.5 L556.3,164.2 L556.9,164.8 L557.4,167.3 L557.8,168.0 L557.9,170.1 L558.1,172.1 L558.9,172.5 L560.4,175.0 L561.4,175.7 L561.6,178.0 L562.0,180.3 L562.9,180.6 L564.4,181.9 L566.1,182.6 L566.6,184.9 L567.1,187.1 L568.4,187.5 L569.9,188.7 L571.9,189.6 L572.4,192.1 L573.0,194.4 L574.4,194.7 L576.9,196.7 L578.5,197.4 L578.9,199.5 L579.5,201.9 L580.9,202.3 L582.6,203.4 L584.6,204.0 L585.1,205.8 L585.9,208.1 L587.9,208.5 L590.1,209.9 L592.3,210.6 L592.9,212.5 L593.7,214.5 L595.6,214.8 L597.6,215.6 L599.8,216.1 L600.4,217.8 L601.2,219.6 L603.1,219.9 L605.6,221.0 L607.2,221.4 L607.6,222.6 L608.5,224.6 L610.6,224.9 L613.1,225.9 L615.5,226.4 L616.1,228.0 L617.0,229.8 L619.1,230.0 L622.1,231.2 L624.7,231.7 L625.4,233.3 L626.2,234.7 L628.1,234.9 L631.1,235.7 L633.3,236.1 L633.9,237.3 L634.9,239.0 L637.4,239.3 L640.6,239.9 L642.6,240.2 L643.1,241.1 L643.8,242.1 L645.4,242.2 L648.1,242.6 L650.7,243.0 L651.4,244.3 L652.2,245.6 L654.4,245.8 L657.4,246.3 L659.6,246.6 L660.1,247.6 L660.9,248.7 L662.9,248.8 L665.6,249.2 L667.8,249.6 L668.4,250.6 L669.2,251.9 L671.4,252.1 L674.4,252.7 L677.1,253.1 L677.9,254.2 L678.8,255.3 L681.1,255.4 L684.6,255.8 L687.4,256.1 L688.1,257.1 L689.2,258.2 L691.9,258.4 L694.9,258.6 L697.1,258.8 L697.6,259.5 L698.6,260.6 L701.1,260.7 L704.6,261.0 L707.4,261.3 L708.1,262.2 L709.1,263.2 L711.4,263.3 L714.6,263.5 L716.6,263.7 L717.1,264.4 L718.1,265.4 L720.6,265.6 L723.9,265.7 L726.1,266.0 L726.6,266.7 L727.3,267.4 L728.9,267.5 L732.6,267.6 L735.6,267.8 L736.4,268.4 L737.1,269.0 L738.9,269.0 L747.0,270.6 L753.8,272.1 L765.3,272.5 L779.0,275.6 L791.0,277.9 L801.0,278.5 L809.0,282.5 L820.0,283.0 L823.0,284.8 L848.0,285.0 L850.0,286.4 L869.0,286.6 L871.0,288.2 L888.0,288.4 L890.0,289.4 L906.0,289.6 L908.0,291.0 L932.4,291.6" fill="none" stroke="#0c0c0c" stroke-width="2.4" stroke-linejoin="miter"/>
</g>
<g transform="translate(0,738.8) scale(1,-1)">
<line x1="570.70" y1="160.50" x2="570.70" y2="190.10" stroke="#0c0c0c" stroke-width="1.5" />
<line x1="556.10" y1="160.50" x2="571.40" y2="160.50" stroke="#0c0c0c" stroke-width="1.5" />
<line x1="570.70" y1="164.40" x2="932.40" y2="164.40" stroke="#0c0c0c" stroke-width="2.0" />
<line x1="570.70" y1="168.65" x2="932.40" y2="168.65" stroke="#0c0c0c" stroke-width="1.7" />
<line x1="570.70" y1="170.75" x2="932.40" y2="170.75" stroke="#6a6a6a" stroke-width="0.8" />
<line x1="570.70" y1="172.60" x2="932.40" y2="172.60" stroke="#0c0c0c" stroke-width="1.5" />
<line x1="701.30" y1="183.60" x2="932.40" y2="183.60" stroke="#0c0c0c" stroke-width="2.0" />
<path d="M663.8,182.9 L670.5,182.9 L672.3,186.6 L689.0,186.8 L691.0,189.7 L700.0,189.9 L702.0,191.6 L707.0,191.7 L709.0,192.6 L738.5,192.4 L741.0,194.6 L759.0,194.8 L762.0,197.0 L792.0,197.2 L794.0,198.5 L846.0,198.7 L848.5,200.2 L932.4,200.2" fill="none" stroke="#0c0c0c" stroke-width="2.3" stroke-linejoin="round"/>
<rect x="582.6" y="162" width="8.3" height="45.2" fill="#fff"/>
<line x1="583.83" y1="160.00" x2="583.83" y2="205.33" stroke="#0c0c0c" stroke-width="2.45" />
<line x1="589.67" y1="160.00" x2="589.67" y2="210.45" stroke="#0c0c0c" stroke-width="2.45" />
<rect x="582.6" y="157.4" width="8.3" height="10.6" fill="#0c0c0c"/>
<rect x="584.9" y="162.1" width="3.7" height="3.0" fill="#fff"/>
<rect x="600.9" y="162" width="8.3" height="58.9" fill="#fff"/>
<line x1="602.12" y1="160.00" x2="602.12" y2="219.56" stroke="#0c0c0c" stroke-width="2.45" />
<line x1="607.97" y1="160.00" x2="607.97" y2="223.46" stroke="#0c0c0c" stroke-width="2.45" />
<rect x="600.9" y="157.4" width="8.3" height="10.6" fill="#0c0c0c"/>
<rect x="603.2" y="162.1" width="3.7" height="3.0" fill="#fff"/>
<rect x="618.3" y="162" width="8.3" height="69.7" fill="#fff"/>
<line x1="619.52" y1="160.00" x2="619.52" y2="230.60" stroke="#0c0c0c" stroke-width="2.45" />
<line x1="625.37" y1="160.00" x2="625.37" y2="233.91" stroke="#0c0c0c" stroke-width="2.45" />
<rect x="618.3" y="157.4" width="8.3" height="10.6" fill="#0c0c0c"/>
<rect x="620.6" y="162.1" width="3.7" height="3.0" fill="#fff"/>
<rect x="637.4" y="162" width="8.3" height="78.6" fill="#fff"/>
<line x1="638.62" y1="160.00" x2="638.62" y2="240.12" stroke="#0c0c0c" stroke-width="2.45" />
<line x1="644.47" y1="160.00" x2="644.47" y2="242.21" stroke="#0c0c0c" stroke-width="2.45" />
<rect x="637.4" y="157.4" width="8.3" height="10.6" fill="#0c0c0c"/>
<rect x="639.7" y="162.1" width="3.7" height="3.0" fill="#fff"/>
<rect x="655.5" y="162" width="8.3" height="85.4" fill="#fff"/>
<line x1="656.73" y1="160.00" x2="656.73" y2="246.99" stroke="#0c0c0c" stroke-width="2.45" />
<line x1="662.57" y1="160.00" x2="662.57" y2="249.01" stroke="#0c0c0c" stroke-width="2.45" />
<rect x="655.5" y="157.4" width="8.3" height="10.6" fill="#0c0c0c"/>
<rect x="657.8" y="162.1" width="3.7" height="3.0" fill="#fff"/>
<rect x="674.2" y="162" width="8.3" height="92.3" fill="#fff"/>
<line x1="675.43" y1="160.00" x2="675.43" y2="254.05" stroke="#0c0c0c" stroke-width="2.45" />
<line x1="681.27" y1="160.00" x2="681.27" y2="255.76" stroke="#0c0c0c" stroke-width="2.45" />
<rect x="674.2" y="157.4" width="8.3" height="10.6" fill="#0c0c0c"/>
<rect x="676.5" y="162.1" width="3.7" height="3.0" fill="#fff"/>
<rect x="693.0" y="162" width="8.3" height="97.4" fill="#fff"/>
<line x1="694.23" y1="160.00" x2="694.23" y2="259.30" stroke="#0c0c0c" stroke-width="2.45" />
<line x1="700.07" y1="160.00" x2="700.07" y2="260.73" stroke="#0c0c0c" stroke-width="2.45" />
<rect x="693.0" y="157.4" width="8.3" height="10.6" fill="#0c0c0c"/>
<rect x="695.3" y="162.1" width="3.7" height="3.0" fill="#fff"/>
<rect x="710.3" y="162" width="8.3" height="101.8" fill="#fff"/>
<line x1="711.52" y1="160.00" x2="711.52" y2="263.68" stroke="#0c0c0c" stroke-width="2.45" />
<line x1="717.37" y1="160.00" x2="717.37" y2="265.09" stroke="#0c0c0c" stroke-width="2.45" />
<rect x="710.3" y="157.4" width="8.3" height="10.6" fill="#0c0c0c"/>
<rect x="712.6" y="162.1" width="3.7" height="3.0" fill="#fff"/>
<rect x="729.8" y="162" width="8.3" height="106.1" fill="#fff"/>
<line x1="731.02" y1="160.00" x2="731.02" y2="268.24" stroke="#0c0c0c" stroke-width="2.45" />
<line x1="736.87" y1="160.00" x2="736.87" y2="269.06" stroke="#0c0c0c" stroke-width="2.45" />
<rect x="729.8" y="157.4" width="8.3" height="10.6" fill="#0c0c0c"/>
<rect x="732.1" y="162.1" width="3.7" height="3.0" fill="#fff"/>
<rect x="746.9" y="162" width="8.3" height="109.5" fill="#fff"/>
<line x1="748.12" y1="160.00" x2="748.12" y2="271.45" stroke="#0c0c0c" stroke-width="2.45" />
<line x1="753.97" y1="160.00" x2="753.97" y2="272.71" stroke="#0c0c0c" stroke-width="2.45" />
<rect x="746.9" y="157.4" width="8.3" height="10.6" fill="#0c0c0c"/>
<rect x="749.2" y="162.1" width="3.7" height="3.0" fill="#fff"/>
<rect x="766.4" y="162" width="8.3" height="111.7" fill="#fff"/>
<line x1="767.62" y1="160.00" x2="767.62" y2="273.63" stroke="#0c0c0c" stroke-width="2.45" />
<line x1="773.47" y1="160.00" x2="773.47" y2="274.95" stroke="#0c0c0c" stroke-width="2.45" />
<rect x="766.4" y="157.4" width="8.3" height="10.6" fill="#0c0c0c"/>
<rect x="768.7" y="162.1" width="3.7" height="3.0" fill="#fff"/>
<rect x="783.6" y="162" width="8.3" height="115.3" fill="#fff"/>
<line x1="784.83" y1="160.00" x2="784.83" y2="277.32" stroke="#0c0c0c" stroke-width="2.45" />
<line x1="790.67" y1="160.00" x2="790.67" y2="278.44" stroke="#0c0c0c" stroke-width="2.45" />
<rect x="783.6" y="157.4" width="8.3" height="10.6" fill="#0c0c0c"/>
<rect x="785.9" y="162.1" width="3.7" height="3.0" fill="#fff"/>
<rect x="802.2" y="162" width="8.3" height="119.2" fill="#fff"/>
<line x1="803.43" y1="160.00" x2="803.43" y2="280.31" stroke="#0c0c0c" stroke-width="2.45" />
<line x1="809.27" y1="160.00" x2="809.27" y2="283.11" stroke="#0c0c0c" stroke-width="2.45" />
<rect x="802.2" y="157.4" width="8.3" height="10.6" fill="#0c0c0c"/>
<rect x="804.5" y="162.1" width="3.7" height="3.0" fill="#fff"/>
<rect x="821.1" y="162" width="8.3" height="122.8" fill="#fff"/>
<line x1="822.33" y1="160.00" x2="822.33" y2="285.00" stroke="#0c0c0c" stroke-width="2.45" />
<line x1="828.17" y1="160.00" x2="828.17" y2="285.44" stroke="#0c0c0c" stroke-width="2.45" />
<rect x="821.1" y="157.4" width="8.3" height="10.6" fill="#0c0c0c"/>
<rect x="823.4" y="162.1" width="3.7" height="3.0" fill="#fff"/>
<rect x="839.1" y="162" width="8.3" height="123.0" fill="#fff"/>
<line x1="840.33" y1="160.00" x2="840.33" y2="285.54" stroke="#0c0c0c" stroke-width="2.45" />
<line x1="846.17" y1="160.00" x2="846.17" y2="285.59" stroke="#0c0c0c" stroke-width="2.45" />
<rect x="839.1" y="157.4" width="8.3" height="10.6" fill="#0c0c0c"/>
<rect x="841.4" y="162.1" width="3.7" height="3.0" fill="#fff"/>
<rect x="858.9" y="162" width="8.3" height="124.5" fill="#fff"/>
<line x1="860.12" y1="160.00" x2="860.12" y2="287.11" stroke="#0c0c0c" stroke-width="2.45" />
<line x1="865.97" y1="160.00" x2="865.97" y2="287.17" stroke="#0c0c0c" stroke-width="2.45" />
<rect x="858.9" y="157.4" width="8.3" height="10.6" fill="#0c0c0c"/>
<rect x="861.2" y="162.1" width="3.7" height="3.0" fill="#fff"/>
<rect x="875.5" y="162" width="8.3" height="126.3" fill="#fff"/>
<line x1="876.73" y1="160.00" x2="876.73" y2="288.87" stroke="#0c0c0c" stroke-width="2.45" />
<line x1="882.57" y1="160.00" x2="882.57" y2="288.94" stroke="#0c0c0c" stroke-width="2.45" />
<rect x="875.5" y="157.4" width="8.3" height="10.6" fill="#0c0c0c"/>
<rect x="877.8" y="162.1" width="3.7" height="3.0" fill="#fff"/>
<rect x="893.1" y="162" width="8.3" height="127.5" fill="#fff"/>
<line x1="894.33" y1="160.00" x2="894.33" y2="290.05" stroke="#0c0c0c" stroke-width="2.45" />
<line x1="900.17" y1="160.00" x2="900.17" y2="290.13" stroke="#0c0c0c" stroke-width="2.45" />
<rect x="893.1" y="157.4" width="8.3" height="10.6" fill="#0c0c0c"/>
<rect x="895.4" y="162.1" width="3.7" height="3.0" fill="#fff"/>
<rect x="912.4" y="162" width="20" height="129.3" fill="#fff"/>
<line x1="913.62" y1="160.00" x2="913.62" y2="291.60" stroke="#0c0c0c" stroke-width="2.45" />
<line x1="919.90" y1="160.00" x2="919.90" y2="291.60" stroke="#0c0c0c" stroke-width="2.45" />
<line x1="932.40" y1="160.00" x2="932.40" y2="292.00" stroke="#0c0c0c" stroke-width="2.45" />
<rect x="912.4" y="157.5" width="21.1" height="5.2" fill="#0c0c0c"/>
<rect x="912.4" y="162.7" width="8.7" height="5.3" fill="#0c0c0c"/>
<rect x="914.8" y="162.1" width="3.7" height="3.0" fill="#fff"/>
<line x1="920.00" y1="166.40" x2="932.40" y2="166.40" stroke="#0c0c0c" stroke-width="1.8" />
<line x1="920.00" y1="171.20" x2="932.40" y2="171.20" stroke="#0c0c0c" stroke-width="1.2" />
<line x1="920.00" y1="183.40" x2="932.40" y2="183.40" stroke="#0c0c0c" stroke-width="2.0" />
<line x1="920.00" y1="200.20" x2="932.40" y2="200.20" stroke="#0c0c0c" stroke-width="2.0" />
<path d="M556.1,160.5 L556.3,164.2 L556.9,164.8 L557.4,167.3 L557.8,168.0 L557.9,170.1 L558.1,172.1 L558.9,172.5 L560.4,175.0 L561.4,175.7 L561.6,178.0 L562.0,180.3 L562.9,180.6 L564.4,181.9 L566.1,182.6 L566.6,184.9 L567.1,187.1 L568.4,187.5 L569.9,188.7 L571.9,189.6 L572.4,192.1 L573.0,194.4 L574.4,194.7 L576.9,196.7 L578.5,197.4 L578.9,199.5 L579.5,201.9 L580.9,202.3 L582.6,203.4 L584.6,204.0 L585.1,205.8 L585.9,208.1 L587.9,208.5 L590.1,209.9 L592.3,210.6 L592.9,212.5 L593.7,214.5 L595.6,214.8 L597.6,215.6 L599.8,216.1 L600.4,217.8 L601.2,219.6 L603.1,219.9 L605.6,221.0 L607.2,221.4 L607.6,222.6 L608.5,224.6 L610.6,224.9 L613.1,225.9 L615.5,226.4 L616.1,228.0 L617.0,229.8 L619.1,230.0 L622.1,231.2 L624.7,231.7 L625.4,233.3 L626.2,234.7 L628.1,234.9 L631.1,235.7 L633.3,236.1 L633.9,237.3 L634.9,239.0 L637.4,239.3 L640.6,239.9 L642.6,240.2 L643.1,241.1 L643.8,242.1 L645.4,242.2 L648.1,242.6 L650.7,243.0 L651.4,244.3 L652.2,245.6 L654.4,245.8 L657.4,246.3 L659.6,246.6 L660.1,247.6 L660.9,248.7 L662.9,248.8 L665.6,249.2 L667.8,249.6 L668.4,250.6 L669.2,251.9 L671.4,252.1 L674.4,252.7 L677.1,253.1 L677.9,254.2 L678.8,255.3 L681.1,255.4 L684.6,255.8 L687.4,256.1 L688.1,257.1 L689.2,258.2 L691.9,258.4 L694.9,258.6 L697.1,258.8 L697.6,259.5 L698.6,260.6 L701.1,260.7 L704.6,261.0 L707.4,261.3 L708.1,262.2 L709.1,263.2 L711.4,263.3 L714.6,263.5 L716.6,263.7 L717.1,264.4 L718.1,265.4 L720.6,265.6 L723.9,265.7 L726.1,266.0 L726.6,266.7 L727.3,267.4 L728.9,267.5 L732.6,267.6 L735.6,267.8 L736.4,268.4 L737.1,269.0 L738.9,269.0 L747.0,270.6 L753.8,272.1 L765.3,272.5 L779.0,275.6 L791.0,277.9 L801.0,278.5 L809.0,282.5 L820.0,283.0 L823.0,284.8 L848.0,285.0 L850.0,286.4 L869.0,286.6 L871.0,288.2 L888.0,288.4 L890.0,289.4 L906.0,289.6 L908.0,291.0 L932.4,291.6" fill="none" stroke="#0c0c0c" stroke-width="2.4" stroke-linejoin="miter"/>
</g>
<path d="M932.4,160.8 L976.8,160.8 L976.8,293.6 L970.4,293.6 L962.0,284.2 L962.0,277.2 L951.2,277.2 L951.2,293.2 L936.5,293.2 L933.5,291.4 L932.4,291.4" fill="none" stroke="#0c0c0c" stroke-width="2.4" stroke-linejoin="miter"/>
<line x1="932.40" y1="166.40" x2="976.80" y2="166.40" stroke="#0c0c0c" stroke-width="2.0" />
<path d="M932.4,446.9 L933.5,446.9 L936.1,445.3 L976.9,444.9 L976.9,578.8 L932.4,578.8" fill="none" stroke="#0c0c0c" stroke-width="2.4" stroke-linejoin="miter"/>
<line x1="932.40" y1="572.40" x2="976.80" y2="572.40" stroke="#0c0c0c" stroke-width="2.0" />
<path d="M952.7,278.4 L957.6,296.3 L952.7,306.0 L952.7,461.9 L961.5,461.9 L961.5,454.6 L969.8,446.3" fill="none" stroke="#0c0c0c" stroke-width="1.6" />
<path d="M964.0,445.0 L964.0,430.3 L977.0,444.6" fill="none" stroke="#0c0c0c" stroke-width="1.6" stroke-linejoin="miter"/>
<path d="M570.7,160.5 L463.5,160.5 C458.5,178 454.5,198 452.4,219.5 C448,262 443.5,300 442.6,340 C442.3,385 443.2,420 444.6,445 C446,475 448,500 451.2,519.5 L465.5,575.5 L532.2,575.5 Q533.4,577.8 536,577.8 L570.7,577.8" fill="none" stroke="#0c0c0c" stroke-width="1.4"/>
<path d="M452.5,219.0 L456.6,219.0 L456.6,519.4 L451.6,519.4" fill="none" stroke="#0c0c0c" stroke-width="1.2" />
<line x1="452.30" y1="219.00" x2="451.70" y2="519.40" stroke="#0c0c0c" stroke-width="1.2" />
<path d="M533.8,160.5 L533.8,166.5 C541,184 553,222 558.3,252.9 C536,282 518,325 517.8,369 C518,415 535,455 558.3,489.3 C553,523 541,558 532.2,575.5" fill="none" stroke="#0c0c0c" stroke-width="1.4"/>
<line x1="442.4" y1="106" x2="442.4" y2="146.5" stroke="#111" stroke-width="1.20" />
<line x1="976.8" y1="106" x2="976.8" y2="146.5" stroke="#111" stroke-width="1.20" />
<line x1="449.0" y1="120.9" x2="970.2" y2="120.9" stroke="#111" stroke-width="1.20" />
<path d="M443.0,120.9 L454.0,118.30000000000001 L454.0,123.5 Z M976.2,120.9 L965.2,118.30000000000001 L965.2,123.5 Z" fill="#111"/>
<rect x="666.2" y="94.4" width="2.4" height="14.5" fill="#111"/><rect x="677.1" y="94.4" width="2.4" height="14.5" fill="#111"/>
<text x="684.0" y="108.9" font-size="20.2" textLength="102.2" lengthAdjust="spacingAndGlyphs" fill="#111" stroke="#111" stroke-width="0.45">4.00 [4.49]</text>
<text x="570.0" y="261.9" font-size="23" textLength="21.2" lengthAdjust="spacingAndGlyphs" fill="#1a1a1a" >D</text>
<text x="571.0" y="493.5" font-size="22" textLength="20.4" lengthAdjust="spacingAndGlyphs" fill="#3a3a3a" >D</text>
</svg></body></html>
